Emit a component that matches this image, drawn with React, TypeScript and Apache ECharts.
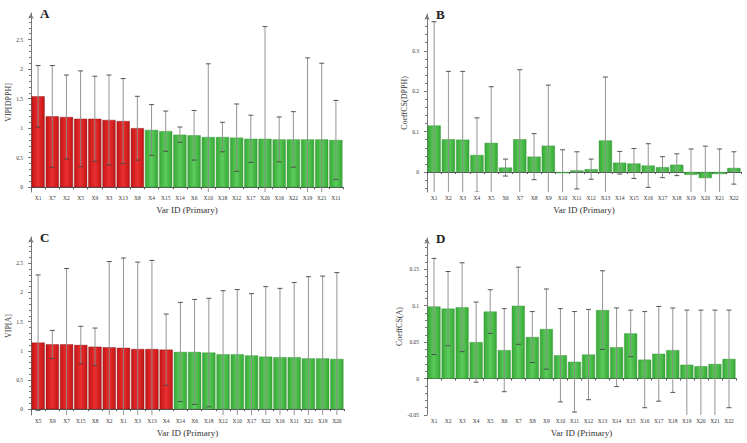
import React, { useEffect, useRef } from "react";
import * as echarts from "echarts";

// Panel A: VIP[DPPH]
const catsA = ["X1","X7","X2","X5","X9","X3","X13","X8","X4","X15","X14","X6","X10","X18","X12","X17","X20","X16","X22","X19","X21","X11"];
const valsA = [1.54,1.2,1.19,1.16,1.16,1.14,1.12,1.0,0.97,0.95,0.89,0.88,0.85,0.85,0.84,0.82,0.82,0.81,0.81,0.81,0.81,0.8];
const upA = [2.06,2.06,1.9,1.97,1.88,1.9,1.84,1.54,1.4,1.29,1.02,1.3,2.09,1.1,1.41,1.22,2.72,1.19,1.28,2.19,2.1,1.47];
const redA = 8;

// Panel B: CoeffCS(DPPH)
const catsB = ["X1","X2","X3","X4","X5","X6","X7","X8","X9","X10","X11","X12","X13","X14","X15","X16","X17","X18","X19","X20","X21","X22"];
const valsB = [0.115,0.081,0.08,0.042,0.072,0.011,0.081,0.038,0.065,-0.003,0.004,0.007,0.078,0.023,0.021,0.016,0.012,0.018,-0.007,-0.015,-0.005,0.01];
const upB = [0.372,0.249,0.249,0.134,0.211,0.032,0.253,0.095,0.215,0.055,0.05,0.032,0.235,0.051,0.058,0.07,0.038,0.045,0.057,0.064,0.057,0.05];

// Panel C: VIP[A]
const catsC = ["X5","X9","X7","X15","X8","X2","X1","X3","X13","X4","X14","X6","X18","X12","X10","X17","X22","X16","X11","X21","X19","X20"];
const valsC = [1.14,1.11,1.11,1.1,1.07,1.06,1.05,1.03,1.03,1.02,0.98,0.98,0.97,0.94,0.94,0.92,0.9,0.89,0.89,0.87,0.87,0.86];
const upC = [2.3,1.35,2.41,1.42,1.39,2.53,2.59,2.52,2.55,1.63,1.83,1.88,1.9,2.03,2.05,1.98,2.1,2.07,2.17,2.27,2.28,2.34];
const redC = 10;

// Panel D: CoeffCS(A)
const catsD = catsB;
const valsD = [0.099,0.096,0.098,0.05,0.092,0.039,0.1,0.057,0.068,0.032,0.023,0.033,0.094,0.043,0.062,0.026,0.034,0.039,0.019,0.017,0.02,0.027];
const upD = [0.165,0.147,0.159,0.105,0.122,0.096,0.153,0.092,0.123,0.096,0.092,0.095,0.148,0.097,0.094,0.092,0.099,0.097,0.094,0.094,0.094,0.094];

const FONT = "Liberation Serif";

const grad = (dark: string, light: string) =>
  new echarts.graphic.LinearGradient(0, 0, 1, 0, [
    { offset: 0, color: dark },
    { offset: 0.5, color: light },
    { offset: 1, color: dark },
  ]);
const RED = grad("#c41414", "#ea3030");
const GREEN = grad("#36a836", "#5ccc5c");

type Panel = {
  cats: string[]; vals: number[]; up: number[]; red: number;
  left: number; top: number; width: number; height: number;
  min: number; max: number; ticks: number[]; name: string; letter: string;
};

const panels: Panel[] = [
  { cats: catsA, vals: valsA, up: upA, red: redA, left: 31, top: 13, width: 312, height: 179, min: -0.08, max: 2.95, ticks: [0, 0.5, 1, 1.5, 2, 2.5], name: "VIP[DPPH]", letter: "A" },
  { cats: catsB, vals: valsB, up: upB, red: 0, left: 427, top: 14, width: 314, height: 178, min: -0.0495, max: 0.391, ticks: [0, 0.1, 0.2, 0.3], name: "CoeffCS(DPPH)", letter: "B" },
  { cats: catsC, vals: valsC, up: upC, red: redC, left: 31, top: 237, width: 313, height: 178, min: -0.1, max: 2.95, ticks: [0, 0.5, 1, 1.5, 2, 2.5], name: "VIP[A]", letter: "C" },
  { cats: catsD, vals: valsD, up: upD, red: 0, left: 427, top: 238, width: 309, height: 177, min: -0.05, max: 0.193, ticks: [-0.05, 0, 0.05, 0.1, 0.15], name: "CoeffCS(A)", letter: "D" },
];

const App: React.FC = () => {
  const ref = useRef<HTMLDivElement | null>(null);

  useEffect(() => {
    document.body.style.margin = "0";
    if (!ref.current) return;
    const chart = echarts.init(ref.current, null, { renderer: "svg" });

    const grid: any[] = [];
    const xAxis: any[] = [];
    const yAxis: any[] = [];
    const series: any[] = [];
    const graphic: any[] = [];

    panels.forEach((p, i) => {
      grid.push({ left: p.left, top: p.top, width: p.width, height: p.height });
      xAxis.push({
        type: "category", gridIndex: i, data: p.cats,
        name: "Var ID (Primary)", nameLocation: "middle", nameGap: 13,
        nameTextStyle: { fontFamily: FONT, fontSize: 9, color: "#333" },
        axisLine: { lineStyle: { color: "#555" } },
        axisTick: { show: true, length: 2, lineStyle: { color: "#555" } },
        axisLabel: { fontFamily: FONT, fontSize: 5.5, color: "#333", interval: 0, margin: 3 },
      });
      yAxis.push({
        type: "value", gridIndex: i, min: p.min, max: p.max,
        name: p.name, nameLocation: "middle", nameGap: 19, nameRotate: 90,
        nameTextStyle: { fontFamily: FONT, fontSize: 8, color: "#333" },
        axisLine: { show: true, symbol: ["none", "arrow"], symbolSize: [4, 6], lineStyle: { color: "#777" } },
        axisTick: { show: true, customValues: p.ticks, length: 3, lineStyle: { color: "#777" } },
        minorTick: { show: true, splitNumber: 5, length: 2 },
        axisLabel: { customValues: p.ticks, fontFamily: FONT, fontSize: 5.5, color: "#333", margin: 8 },
        splitLine: { show: false },
      });
      series.push({
        type: "bar", xAxisIndex: i, yAxisIndex: i, barCategoryGap: "8%",
        data: p.vals.map((v, k) => ({
          value: v,
          itemStyle: { color: k < p.red ? RED : GREEN, borderColor: k < p.red ? "#7a1010" : "#2f8f2f", borderWidth: 0.4 },
        })),
      });
      series.push({
        type: "custom", xAxisIndex: i, yAxisIndex: i, clip: true, z: 5,
        data: p.vals.map((v, k) => [k, p.up[k], 2 * v - p.up[k]]),
        renderItem: (params: any, api: any) => {
          const hi = api.coord([api.value(0), api.value(1)]);
          const lo = api.coord([api.value(0), api.value(2)]);
          const w = api.size([1, 0])[0] * 0.35;
          const line = { stroke: "#888", lineWidth: 0.9 };
          const cap = { stroke: "#444", lineWidth: 0.9 };
          return {
            type: "group",
            children: [
              { type: "line", shape: { x1: hi[0], y1: hi[1], x2: lo[0], y2: lo[1] }, style: line },
              { type: "line", shape: { x1: hi[0] - w / 2, y1: hi[1], x2: hi[0] + w / 2, y2: hi[1] }, style: cap },
              { type: "line", shape: { x1: lo[0] - w / 2, y1: lo[1], x2: lo[0] + w / 2, y2: lo[1] }, style: cap },
            ],
          };
        },
      });
      graphic.push({
        type: "text", left: p.left + 9, top: p.top - 6,
        style: { text: p.letter, font: `bold 13px "${FONT}"`, fill: "#222" },
      });
    });

    chart.setOption({ animation: false, grid, xAxis, yAxis, series, graphic });
    return () => chart.dispose();
  }, []);

  return <div ref={ref} style={{ width: 747, height: 443, background: "#fff" }} />;
};

export default App;
